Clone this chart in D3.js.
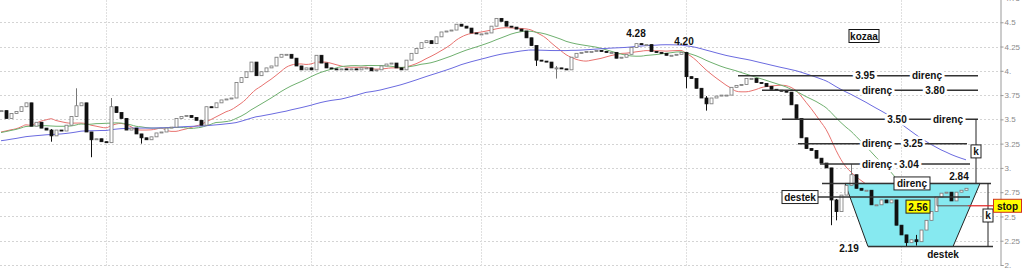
<!DOCTYPE html>
<html>
<head>
<meta charset="utf-8">
<script src="https://cdn.jsdelivr.net/npm/d3@7"></script>
<style>
  body { margin: 0; background: #fff; }
  svg { display: block; font-family: "Liberation Sans", Arial, sans-serif; }
</style>
</head>
<body>
<div id="chart"></div>
<script>
// daily closes (kozaa)
var closes = [
  3.59,3.51,3.56,3.58,3.63,3.67,3.43,3.47,3.41,3.39,
  3.33,3.39,3.38,3.44,3.53,3.64,3.67,3.37,3.29,3.30,
  3.27,3.26,3.63,3.57,3.51,3.39,3.41,3.35,3.31,3.29,
  3.32,3.36,3.37,3.41,3.42,3.51,3.53,3.54,3.52,3.49,
  3.44,3.63,3.62,3.67,3.70,3.71,3.72,3.88,3.93,3.99,
  4.09,3.95,3.99,4.03,4.05,4.14,4.17,4.17,4.13,4.05,
  4.01,4.03,4.01,4.16,4.08,4.03,4.02,4.01,4.02,4.01,
  4.02,4.01,4.03,4.03,4.00,4.01,4.05,4.07,4.08,4.03,
  4.01,4.11,4.18,4.23,4.29,4.31,4.28,4.35,4.40,4.41,
  4.42,4.48,4.46,4.44,4.39,4.38,4.38,4.39,4.46,4.54,
  4.51,4.46,4.45,4.43,4.41,4.34,4.26,4.11,4.10,4.09,
  4.03,4.03,4.02,4.01,4.14,4.18,4.19,4.20,4.20,4.21,
  4.20,4.19,4.19,4.13,4.14,4.17,4.24,4.28,4.27,4.27,
  4.20,4.19,4.18,4.16,4.16,4.17,4.19,3.94,3.92,3.82,
  3.72,3.66,3.72,3.74,3.75,3.75,3.83,3.85,3.86,3.92,
  3.92,3.88,3.87,3.84,3.81,3.80,3.79,3.78,3.65,3.51,
  3.31,3.20,3.18,3.10,3.05,3.00,2.67,2.55,2.72,2.82,
  2.93,2.79,2.77,2.77,2.62,2.62,2.67,2.64,2.67,2.41,
  2.31,2.23,2.26,2.24,2.36,2.46,2.55,2.70,2.74,2.75,
  2.66,2.75,2.77,2.79
];
// closes before the visible window, only used to warm up the averages
var priorCloses = [
  3.12,3.15,3.10,3.18,3.14,3.20,3.16,3.22,3.18,3.15,3.19,3.24,3.21,
  3.17,3.20,3.23,3.19,3.22,3.26,3.21,3.18,3.24,3.22,3.27,3.25,3.28,
  3.30,3.26,3.32,3.29,3.34,3.28,3.31,3.35,3.30,3.33,3.36,
  3.38,3.42,3.36,3.40,3.45,3.39,3.43,3.47,3.41,3.44,3.49,
  3.22,3.18,3.25,3.20
];
// long wicks: [bar, low, high]
var wicks = [
  [10,3.27,3.40],[15,3.60,3.82],[18,3.11,3.37],[22,3.47,3.72],[28,3.25,3.35],
  [107,4.05,4.26],[111,3.92,4.05],[137,3.82,4.19],[141,3.59,3.74],
  [166,2.41,2.77],[167,2.46,2.68],[170,2.88,3.04],[181,2.19,2.30],[183,2.20,2.31]
];
var maPeriods = [11, 22, 52];
var maColors = ['#e8726f', '#6fb06f', '#6b6be0'];

var yTicks = [2, 2.25, 2.5, 2.75, 3, 3.25, 3.5, 3.75, 4, 4.25, 4.5, 4.75];
var monthBars = [21, 62, 96, 137, 180];   // vertical grid lines

var peakLabels = [[127, 4.28], [136.6, 4.20]];
var resist = [3.95, 3.80, 3.50, 3.25, 3.04];
var cupTop = 2.84, cupBottom = 2.19, handle = 2.70, stopLevel = 2.61, breakout = 2.56;

var width = 1024, height = 268;
var svg = d3.select('#chart').append('svg')
  .attr('width', width).attr('height', height);

var x = d3.scaleLinear().domain([0, closes.length - 1]).range([1, 966]);
var y = d3.scaleLinear().domain([2, 4.75]).range([265, -2]);

// grid
svg.append('g').selectAll('line').data(yTicks).join('line')
  .attr('x1', 0).attr('x2', 1000)
  .attr('y1', d => Math.round(y(d)) + 0.5).attr('y2', d => Math.round(y(d)) + 0.5)
  .attr('stroke', '#d4d4d4').attr('stroke-dasharray', '2,2');
svg.append('g').selectAll('line').data(monthBars).join('line')
  .attr('x1', d => Math.round(x(d)) + 0.5).attr('x2', d => Math.round(x(d)) + 0.5)
  .attr('y1', 0).attr('y2', 266)
  .attr('stroke', '#e0e0e0').attr('stroke-dasharray', '2,1');

// right axis
var axis = d3.axisRight(y).tickValues(yTicks).tickSize(3)
  .tickFormat(d => Number.isInteger(d) ? d + '.' : String(d));
var gAxis = svg.append('g').attr('transform', 'translate(1000.5,0)').call(axis);
gAxis.select('.domain').attr('stroke', '#999');
gAxis.selectAll('.tick line').attr('stroke', '#999');
gAxis.selectAll('text').attr('fill', '#8a8a8a').style('font-size', '8px').attr('x', 4);

// moving averages
var all = priorCloses.concat(closes);
maPeriods.forEach(function (p, k) {
  var ma = closes.map(function (c, i) {
    var j = i + priorCloses.length;
    return d3.mean(all.slice(j - p + 1, j + 1));
  });
  svg.append('path').datum(ma)
    .attr('d', d3.line().x((d, i) => x(i)).y(d => y(d)).curve(d3.curveMonotoneX))
    .attr('fill', 'none').attr('stroke', maColors[k]).attr('stroke-width', 1);
});

// cup (cyan trapezoid) drawn under candles
var cup = svg.append('g');
cup.append('path')
  .attr('d', d3.line()([[x(168.8), y(cupTop)], [x(195.8), y(cupTop)], [x(190.4), y(cupBottom)], [x(173.4), y(cupBottom)]]) + 'Z')
  .attr('fill', '#86e9f0').attr('stroke', '#222').attr('stroke-width', 1);

// candles
var bars = closes.map(function (c, i) {
  var o = i === 0 ? c : closes[i - 1];
  var lo = Math.min(o, c), hi = Math.max(o, c);
  wicks.forEach(function (w) { if (w[0] === i) { lo = Math.min(lo, w[1]); hi = Math.max(hi, w[2]); } });
  return { i: i, o: o, c: c, lo: lo, hi: hi };
});
var gc = svg.append('g');
gc.selectAll('line').data(bars).join('line')
  .attr('x1', d => Math.round(x(d.i)) + 0.5).attr('x2', d => Math.round(x(d.i)) + 0.5)
  .attr('y1', d => y(d.hi)).attr('y2', d => y(d.lo))
  .attr('stroke', d => d.c >= d.o ? '#777' : '#111');
gc.selectAll('rect').data(bars).join('rect')
  .attr('x', d => Math.round(x(d.i)) - 1)
  .attr('y', d => y(Math.max(d.o, d.c)))
  .attr('width', 3)
  .attr('height', d => Math.max(1, Math.abs(y(d.o) - y(d.c))))
  .attr('fill', d => d.c >= d.o ? '#fff' : '#111')
  .attr('stroke', d => d.c >= d.o ? '#777' : '#111')
  .attr('stroke-width', 0.8);

// annotations
var ann = svg.append('g').style('font-size', '10px').style('font-weight', 'bold');
function hline(v, x1, x2) {
  ann.append('line').attr('x1', x1).attr('x2', x2)
    .attr('y1', y(v)).attr('y2', y(v))
    .attr('stroke', '#333').attr('stroke-width', 1.5);
}
function label(t, cx, cy, opts) {
  opts = opts || {};
  var tx = ann.append('text').text(t).attr('x', cx).attr('y', cy)
    .attr('text-anchor', 'middle').attr('dominant-baseline', 'central').attr('fill', '#111');
  if (opts.gap) tx.attr('stroke', '#fff').attr('stroke-width', 5).attr('paint-order', 'stroke');
  return tx;
}
function box(t, cx, cy, w, fill, border) {
  ann.append('rect').attr('x', cx - w / 2).attr('y', cy - 6.5).attr('width', w).attr('height', 13)
    .attr('fill', fill).attr('stroke', border).attr('stroke-width', 1);
  label(t, cx, cy + 0.5);
}

peakLabels.forEach(function (p) {
  label(p[1].toFixed(2), x(p[0]), y(p[1]) - 10);
});

box('kozaa', 864, 36, 30, '#fff', '#111');

// resistance lines with their labels
var resistLayout = [
  { x1: 738, x2: 978, t: [['3.95', 865], ['direnç', 927]] },
  { x1: 762, x2: 978, t: [['direnç', 877], ['3.80', 935]] },
  { x1: 782, x2: 978, t: [['3.50', 897], ['direnç', 948]] },
  { x1: 798, x2: 967, t: [['direnç', 877], ['3.25', 913]] },
  { x1: 820, x2: 970, t: [['direnç', 877], ['3.04', 909]] }
];
resist.forEach(function (v, k) {
  var L = resistLayout[k];
  hline(v, L.x1, L.x2);
  L.t.forEach(function (t) { label(t[0], t[1], y(v), { gap: true }); });
});

// measured move brackets
ann.append('line').attr('x1', 976).attr('x2', 976).attr('y1', y(3.50)).attr('y2', y(cupTop))
  .attr('stroke', '#222').attr('stroke-width', 1);
box('k', 976, (y(3.50) + y(cupTop)) / 2, 10, '#fff', '#222');
hline(cupTop, 822, 991);
ann.append('line').attr('x1', 988).attr('x2', 988).attr('y1', y(cupTop)).attr('y2', y(cupBottom))
  .attr('stroke', '#222').attr('stroke-width', 1);
hline(cupBottom, x(173.4), 993);
box('k', 988, (y(cupTop) + y(cupBottom)) / 2 + 0.5, 10, '#fff', '#222');

box('direnç', 912, y(cupTop), 36, '#fff', '#222');
label('2.84', 959, y(cupTop) - 7);
label('2.19', 849, y(cupBottom) + 2);
label('destek', 943, y(cupBottom) + 8);

// handle support
hline(handle, 818, 970);
box('destek', 800, y(handle), 36, '#fff', '#222');

// stop / breakout
ann.append('line').attr('x1', 937).attr('x2', 937).attr('y1', y(handle)).attr('y2', y(stopLevel))
  .attr('stroke', '#666').attr('stroke-width', 1);
ann.append('line').attr('x1', 937).attr('x2', 968).attr('y1', y(stopLevel)).attr('y2', y(stopLevel))
  .attr('stroke', '#666').attr('stroke-width', 1.2);
ann.append('line').attr('x1', 968).attr('x2', 994).attr('y1', y(stopLevel)).attr('y2', y(stopLevel))
  .attr('stroke', '#e02020').attr('stroke-width', 1.2);
box('stop', 1007.5, y(stopLevel), 28, '#ffff00', '#d03020');
box(breakout.toFixed(2), 918, y(breakout) - 4, 24, '#ffff00', '#222');
</script>
</body>
</html>
